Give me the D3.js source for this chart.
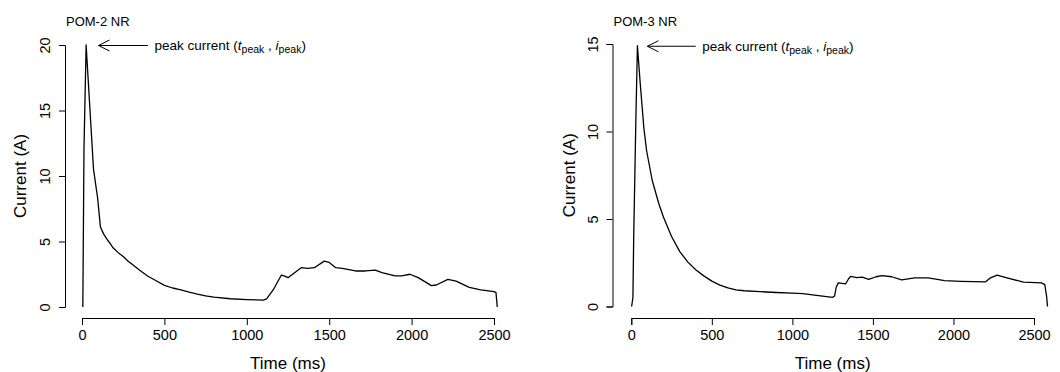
<!DOCTYPE html>
<html>
<head>
<meta charset="utf-8">
<script src="https://cdn.jsdelivr.net/npm/d3@7/dist/d3.min.js"></script>
<style>
  body { margin: 0; background: #fff; }
  svg { display: block; font-family: "Liberation Sans", Arial, sans-serif; }
</style>
</head>
<body>
<svg id="chart" width="1060" height="372"></svg>
<script>
// values
const xTicks = [0, 500, 1000, 1500, 2000, 2500];

const pom2Time = [5, 12, 25, 70, 95, 112, 130, 150, 170, 190, 220, 250, 280, 310, 350, 400, 450,
    500, 550, 600, 650, 700, 750, 800, 900, 1000, 1060, 1100, 1120, 1160, 1210, 1230, 1250,
    1290, 1330, 1370, 1410, 1470, 1500, 1540, 1580, 1660, 1720, 1780, 1820, 1900, 1940,
    1990, 2040, 2120, 2150, 2220, 2270, 2350, 2420, 2500, 2512, 2520];
const pom2Current = [0, 12, 20, 10.5, 8.3, 6.1, 5.6, 5.2, 4.85, 4.5, 4.15, 3.85, 3.5, 3.2, 2.8, 2.35, 2.0,
    1.65, 1.45, 1.3, 1.13, 0.98, 0.85, 0.75, 0.63, 0.57, 0.55, 0.52, 0.62, 1.3, 2.44, 2.35, 2.24,
    2.62, 3.0, 2.95, 3.0, 3.5, 3.4, 3.0, 2.95, 2.75, 2.75, 2.82, 2.62, 2.37, 2.37,
    2.5, 2.24, 1.63, 1.68, 2.11, 1.98, 1.5, 1.3, 1.17, 1.1, 0];
const pom2YTicks = [0, 5, 10, 15, 20];

const pom3Time = [2, 10, 15, 28, 38, 55, 78, 95, 130, 170, 200, 250, 300, 350, 400, 450, 500,
    550, 600, 650, 700, 800, 900, 1000, 1065, 1150, 1249, 1262, 1272, 1285, 1310, 1331,
    1350, 1362, 1400, 1433, 1474, 1520, 1556, 1617, 1678, 1760, 1842, 1900, 1944, 2046,
    2200, 2230, 2271, 2332, 2435, 2547, 2567, 2578, 2584];
const pom3Current = [0, 0.5, 4, 10.5, 14.9, 12.8, 10.2, 8.9, 7.2, 5.9, 5.1, 4.0, 3.15, 2.55, 2.1, 1.75, 1.45,
    1.22, 1.07, 0.95, 0.9, 0.85, 0.8, 0.77, 0.74, 0.63, 0.52, 0.6, 1.1, 1.35, 1.32, 1.3,
    1.6, 1.72, 1.65, 1.68, 1.55, 1.7, 1.77, 1.7, 1.52, 1.64, 1.64, 1.55, 1.48, 1.44,
    1.41, 1.64, 1.79, 1.64, 1.39, 1.35, 1.25, 0.6, 0];
const pom3YTicks = [0, 5, 10, 15];

const panels = [
    { title: "POM-2 NR", time: pom2Time, current: pom2Current, yTicks: pom2YTicks,
      xRange: [82, 494], yRange: [307, 45], axisLeft: 65, axisBottom: 318, ylabX: 20 },
    { title: "POM-3 NR", time: pom3Time, current: pom3Current, yTicks: pom3YTicks,
      xRange: [631.3, 1034], yRange: [306.5, 44], axisLeft: 612.5, axisBottom: 318, ylabX: 569 }
];

const svg = d3.select("#chart");

panels.forEach(p => drawPanel(p));

function drawPanel(p) {
    const x = d3.scaleLinear().domain([0, 2500]).range(p.xRange);
    const yMax = p.yTicks[p.yTicks.length - 1];
    const y = d3.scaleLinear().domain([0, yMax]).range(p.yRange);
    const g = svg.append("g");

    // x axis
    const xAxis = g.append("g")
        .attr("transform", "translate(0," + p.axisBottom + ")")
        .call(d3.axisBottom(x).tickValues(xTicks).tickFormat(d3.format("d"))
            .tickSizeOuter(0).tickSize(7).tickPadding(5));
    styleAxis(xAxis);
    xAxis.selectAll("text").attr("font-size", 14.5).attr("dy", "0.71em");

    // y axis, R style rotated labels
    const yAxis = g.append("g")
        .attr("transform", "translate(" + p.axisLeft + ",0)")
        .call(d3.axisLeft(y).tickValues(p.yTicks).tickFormat(d3.format("d"))
            .tickSizeOuter(0).tickSize(6));
    styleAxis(yAxis);
    yAxis.selectAll("text")
        .attr("font-size", 14.5)
        .attr("x", null).attr("dy", null)
        .attr("text-anchor", "middle")
        .attr("transform", "translate(-15,0) rotate(-90)");

    // axis titles
    g.append("text")
        .attr("x", (p.xRange[0] + p.xRange[1]) / 2)
        .attr("y", 369)
        .attr("text-anchor", "middle")
        .attr("font-size", 17)
        .text("Time (ms)");

    g.append("text")
        .attr("transform", "translate(" + (p.ylabX + 6) + "," + ((p.yRange[0] + p.yRange[1]) / 2) + ") rotate(-90)")
        .attr("text-anchor", "middle")
        .attr("font-size", 17)
        .text("Current (A)");

    g.append("text")
        .attr("x", p.axisLeft + 1)
        .attr("y", 26)
        .attr("font-size", 13)
        .text(p.title);

    // the current trace
    const line = d3.line()
        .x((d, i) => x(p.time[i]))
        .y((d, i) => y(p.current[i]));

    g.append("path")
        .datum(p.current)
        .attr("fill", "none")
        .attr("stroke", "#000")
        .attr("stroke-width", 1.3)
        .attr("stroke-linejoin", "round")
        .attr("d", line);

    // peak annotation
    const peak = d3.max(p.current);
    const ay = y(peak) + 0.5;
    const headX = x(100), tailX = x(400);
    g.append("path")
        .attr("fill", "none")
        .attr("stroke", "#000")
        .attr("stroke-width", 1)
        .attr("d", "M" + tailX + "," + ay + "L" + headX + "," + ay +
            "M" + (headX + 11) + "," + (ay - 5.5) + "L" + headX + "," + ay + "L" + (headX + 11) + "," + (ay + 5.5));

    const t = g.append("text")
        .attr("x", x(440))
        .attr("y", ay + 4.5)
        .attr("font-size", 13.5);
    t.append("tspan").text("peak current (");
    t.append("tspan").attr("font-style", "italic").text("t");
    t.append("tspan").attr("font-size", 10.5).attr("dy", 3).text("peak");
    t.append("tspan").attr("dy", -3).text(" , ");
    t.append("tspan").attr("font-style", "italic").text("i");
    t.append("tspan").attr("font-size", 10.5).attr("dy", 3).text("peak");
    t.append("tspan").attr("dy", -3).text(")");
}

function styleAxis(a) {
    a.select(".domain").attr("stroke", "#000").attr("stroke-width", 1);
    a.selectAll(".tick line").attr("stroke", "#000");
    a.selectAll("text").attr("fill", "#000").attr("font-family", "Liberation Sans, Arial, sans-serif");
}
</script>
</body>
</html>
